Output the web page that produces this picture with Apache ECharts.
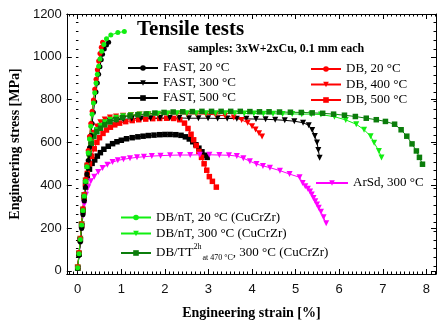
<!DOCTYPE html>
<html>
<head>
<meta charset="utf-8">
<script src="https://cdn.jsdelivr.net/npm/echarts@6.0.0/dist/echarts.min.js"></script>
<style>
  html, body { margin: 0; padding: 0; background: #fff; }
  #chart { width: 441px; height: 325px; }
</style>
</head>
<body>
<div id="chart"></div>
<script>
// strain [%], stress [MPa]
const fast20 = [[0,12],[0.03,72],[0.06,135],[0.09,198],[0.12,262],[0.15,326],[0.18,390],[0.21,452],[0.24,515],[0.27,575],[0.3,632],[0.33,688],[0.36,740],[0.39,790],[0.42,835],[0.45,878],[0.48,918],[0.51,954],[0.54,986],[0.57,1012],[0.61,1036],[0.66,1055],[0.71,1068]]
const fast300 = [[0,10],[0.03,74],[0.06,140],[0.09,206],[0.12,272],[0.15,340],[0.18,408],[0.22,476],[0.26,535],[0.31,585],[0.37,625],[0.44,655],[0.52,676],[0.62,690],[0.74,699],[0.88,705],[1.04,708],[1.24,710],[1.45,712],[1.67,713],[1.89,714],[2.11,714],[2.33,714],[2.55,713],[2.77,713],[2.99,713],[3.21,712],[3.43,712],[3.65,711],[3.87,710],[4.09,709],[4.31,708],[4.53,706],[4.75,703],[4.97,699],[5.17,692],[5.3,680],[5.38,658],[5.44,630],[5.49,600],[5.52,565],[5.55,528]]
const fast500 = [[0,12],[0.03,78],[0.06,144],[0.09,210],[0.12,276],[0.15,338],[0.18,392],[0.22,438],[0.27,475],[0.33,502],[0.39,518],[0.45,536],[0.52,552],[0.6,568],[0.7,582],[0.8,594],[0.9,603],[1.0,610],[1.12,617],[1.25,622],[1.38,626],[1.5,629],[1.62,632],[1.75,634],[1.88,636],[2.0,637],[2.12,637],[2.25,636],[2.37,633],[2.47,626],[2.56,616],[2.64,603],[2.71,589],[2.78,573],[2.85,556],[2.92,540],[2.97,530]]
const db20 = [[0,18],[0.03,85],[0.06,152],[0.09,220],[0.12,290],[0.15,358],[0.18,428],[0.21,496],[0.24,562],[0.27,628],[0.3,688],[0.33,745],[0.36,798],[0.39,848],[0.42,895],[0.45,940],[0.48,980],[0.51,1015],[0.54,1045],[0.57,1068]]
const db400 = [[0,16],[0.03,82],[0.06,150],[0.09,218],[0.12,286],[0.15,354],[0.18,422],[0.22,492],[0.26,552],[0.31,605],[0.37,645],[0.44,674],[0.52,694],[0.62,707],[0.74,716],[0.88,721],[1.04,725],[1.22,728],[1.42,730],[1.62,732],[1.84,733],[2.06,734],[2.28,734],[2.5,733],[2.72,733],[2.94,732],[3.16,729],[3.38,724],[3.58,716],[3.76,705],[3.9,692],[4.0,676],[4.08,660],[4.16,643],[4.23,628]]
const db500 = [[0,14],[0.03,80],[0.06,146],[0.09,212],[0.12,280],[0.15,345],[0.18,405],[0.22,455],[0.27,500],[0.32,535],[0.38,570],[0.44,600],[0.5,622],[0.58,642],[0.66,658],[0.75,671],[0.85,682],[0.96,690],[1.1,697],[1.25,702],[1.4,706],[1.56,709],[1.72,711],[1.88,712],[2.04,713],[2.2,712],[2.34,706],[2.45,690],[2.53,665],[2.6,638],[2.66,612],[2.72,585],[2.78,558],[2.84,530],[2.9,500],[2.96,470],[3.02,440],[3.09,418],[3.18,391]]
const arsd300 = [[0,10],[0.03,72],[0.06,136],[0.09,198],[0.12,258],[0.15,310],[0.19,355],[0.24,390],[0.3,418],[0.38,440],[0.47,462],[0.57,480],[0.68,496],[0.8,508],[0.92,516],[1.05,521],[1.2,526],[1.36,530],[1.52,533],[1.7,536],[1.9,538],[2.12,540],[2.35,541],[2.58,541],[2.8,542],[3.02,542],[3.25,541],[3.47,540],[3.65,536],[3.8,526],[3.95,512],[4.1,499],[4.25,490],[4.41,482],[4.64,468],[4.86,452],[5.09,437],[5.16,410],[5.22,395],[5.28,383],[5.33,370],[5.37,356],[5.41,340],[5.45,325],[5.49,310],[5.53,295],[5.58,276],[5.64,250],[5.7,222]]
const dbnt20 = [[0,14],[0.03,80],[0.06,146],[0.09,214],[0.12,282],[0.15,350],[0.18,418],[0.21,486],[0.24,552],[0.27,616],[0.3,676],[0.33,732],[0.36,784],[0.39,832],[0.42,877],[0.45,918],[0.48,956],[0.51,990],[0.55,1026],[0.6,1058],[0.66,1084],[0.76,1102],[0.92,1113],[1.07,1118]]
const dbnt300 = [[0,14],[0.03,80],[0.06,148],[0.09,216],[0.12,284],[0.15,352],[0.18,420],[0.22,490],[0.26,550],[0.31,598],[0.37,632],[0.44,658],[0.52,678],[0.62,694],[0.74,706],[0.88,715],[1.04,722],[1.22,727],[1.42,730],[1.62,732],[1.84,734],[2.06,735],[2.28,736],[2.5,736],[2.72,736],[2.94,736],[3.16,736],[3.38,736],[3.6,736],[3.82,735],[4.04,735],[4.26,734],[4.48,734],[4.7,733],[4.92,733],[5.14,732],[5.36,732],[5.58,730],[5.89,720],[6.15,705],[6.39,685],[6.57,659],[6.72,629],[6.8,598],[6.91,560],[6.97,529]]
const dbtt300 = [[0,12],[0.03,78],[0.06,146],[0.09,214],[0.12,282],[0.15,350],[0.18,418],[0.22,488],[0.26,548],[0.31,596],[0.37,628],[0.44,650],[0.52,666],[0.62,682],[0.74,696],[0.88,707],[1.03,716],[1.2,724],[1.38,729],[1.57,733],[1.77,737],[1.98,740],[2.19,742],[2.41,743],[2.63,744],[2.85,745],[3.07,745],[3.29,745],[3.51,745],[3.73,745],[3.95,744],[4.17,743],[4.39,743],[4.63,742],[4.88,741],[5.13,740],[5.38,738],[5.62,736],[5.87,732],[6.12,727],[6.37,721],[6.62,713],[6.85,706],[7.06,698],[7.27,685],[7.42,659],[7.55,629],[7.67,593],[7.77,560],[7.84,530],[7.91,498]]

// tick labels
const xTicks = [0, 1, 2, 3, 4, 5, 6, 7, 8]
const yTicks = [0, 200, 400, 600, 800, 1000, 1200]

const X_MIN = -0.25, X_MAX = 8.22, Y_MIN = -15, Y_MAX = 1200
// plot box in px
const G = { left: 65, right: 5, top: 14, bottom: 47 }
// pixel row of stress 0, so the 40 MPa minor-tick grid starts there
const zeroRow = 325 - G.bottom - (0 - Y_MIN) * (325 - G.top - G.bottom) / (Y_MAX - Y_MIN)

const SERIF = 'Liberation Serif'
const SANS = 'Liberation Sans'
const TRI_DOWN = 'path://M0,0L10,0L5,9Z'
const NAME_TT = 'DB/TT 2h at 470 °C, 300 °C (CuCrZr)'

const mkSeries = (name, data, color, symbol, size) => ({
  name,
  type: 'line',
  data,
  symbol,
  symbolSize: size,
  showAllSymbol: true,
  lineStyle: { color, width: 1 },
  itemStyle: { color },
  emphasis: { disabled: true }
})

const tickStyle = { color: '#000', width: 1 }

// x axes: major (nice step 1) and minor (nice step 0.1) on bottom and top
const mkX = (pos, split, len, line, extra = {}) => ({
  type: 'value',
  gridIndex: 0,
  position: pos,
  min: X_MIN,
  max: X_MAX,
  splitNumber: split,
  splitLine: { show: false },
  axisLine: { show: line, onZero: false, lineStyle: tickStyle },
  axisTick: { show: true, inside: true, length: len, lineStyle: tickStyle },
  axisLabel: { show: false },
  ...extra
})

const mkY = (pos, len, line, extra = {}) => ({
  type: 'value',
  gridIndex: 0,
  position: pos,
  min: Y_MIN,
  max: Y_MAX,
  splitNumber: 6,
  splitLine: { show: false },
  axisLine: { show: line, onZero: false, lineStyle: tickStyle },
  axisTick: { show: true, inside: true, length: len, lineStyle: tickStyle },
  axisLabel: { show: false },
  ...extra
})

// minor y ticks live in a second grid that starts at stress 0
const mkYMinor = (pos) => ({
  type: 'value',
  gridIndex: 1,
  position: pos,
  min: 0,
  max: Y_MAX,
  interval: 40,
  splitLine: { show: false },
  axisLine: { show: false },
  axisTick: { show: true, inside: true, length: 2.5, lineStyle: tickStyle },
  axisLabel: { show: false }
})

const nameStyle = { fontFamily: SERIF, fontWeight: 'bold', fontSize: 14, color: '#000' }
const labelStyle = { color: '#111', fontSize: 13, fontFamily: SANS }

const legendText = { fontFamily: SERIF, fontSize: 13, color: '#000' }
const mkLegend = (data, left, top, gap, extra = {}) => ({
  data,
  left,
  top,
  orient: 'vertical',
  padding: 0,
  itemGap: gap,
  itemWidth: 30,
  itemHeight: 7,
  selectedMode: false,
  textStyle: { ...legendText },
  ...extra
})

const chart = echarts.init(document.getElementById('chart'))
chart.setOption({
  animation: false,
  backgroundColor: '#fff',
  title: [
    {
      text: 'Tensile tests',
      left: 137,
      top: 19,
      padding: 0,
      textStyle: { fontFamily: SERIF, fontWeight: 'bold', fontSize: 21, color: '#000' }
    },
    {
      text: 'samples: 3xW+2xCu, 0.1 mm each',
      left: 188,
      top: 43,
      padding: 0,
      textStyle: { fontFamily: SERIF, fontWeight: 'bold', fontSize: 12, color: '#000' }
    }
  ],
  grid: [
    { ...G },
    { left: G.left, right: G.right, top: G.top, bottom: 325 - zeroRow }
  ],
  xAxis: [
    mkX('bottom', 8, 5, true, {
      axisLabel: { show: true, customValues: xTicks, margin: 9, ...labelStyle },
      name: 'Engineering strain [%]',
      nameLocation: 'middle',
      nameGap: 32,
      nameTextStyle: nameStyle
    }),
    mkX('bottom', 85, 2.5, false),
    mkX('top', 8, 5, true),
    mkX('top', 85, 2.5, false),
    { type: 'value', gridIndex: 1, show: false, min: X_MIN, max: X_MAX }
  ],
  yAxis: [
    mkY('left', 5, true, {
      axisLabel: { show: true, customValues: yTicks, margin: 5, formatter: (v) => String(v), ...labelStyle },
      name: 'Engineering stress [MPa]',
      nameLocation: 'middle',
      nameGap: 43,
      nameTextStyle: nameStyle
    }),
    mkY('right', 5, true),
    mkYMinor('left'),
    mkYMinor('right')
  ],
  legend: [
    mkLegend(['FAST, 20 °C', 'FAST, 300 °C', 'FAST, 500 °C'], 127, 61.5, 2),
    mkLegend(['DB, 20 °C', 'DB, 400 °C', 'DB, 500 °C'], 310, 62.5, 2.5),
    mkLegend(['DB/nT, 20 °C (CuCrZr)', 'DB/nT, 300 °C (CuCrZr)', NAME_TT], 120, 211, 3, {
      formatter: (name) => name === NAME_TT
        ? '{a|DB/TT}{sup|2h}{sub|at 470 °C}{a|, 300 °C (CuCrZr)}'
        : name,
      textStyle: {
        ...legendText,
        rich: {
          a: { fontFamily: SERIF, fontSize: 13, color: '#000', lineHeight: 20, verticalAlign: 'middle' },
          sup: { fontFamily: SERIF, fontSize: 8, color: '#000', verticalAlign: 'top' },
          sub: { fontFamily: SERIF, fontSize: 8, color: '#000', verticalAlign: 'bottom', padding: [0, 0, 1, 1] }
        }
      }
    }),
    mkLegend(['ArSd, 300 °C'], 315, 176.5, 2, { itemWidth: 32 })
  ],
  series: [
    mkSeries('FAST, 500 °C', fast500, '#000000', 'rect', 5.5),
    mkSeries('DB, 500 °C', db500, '#ff0000', 'rect', 5.5),
    mkSeries('ArSd, 300 °C', arsd300, '#ff00ff', TRI_DOWN, 6),
    mkSeries('FAST, 300 °C', fast300, '#000000', TRI_DOWN, 6),
    mkSeries('DB, 400 °C', db400, '#ff0000', TRI_DOWN, 6),
    mkSeries('DB/nT, 300 °C (CuCrZr)', dbnt300, '#11ee11', TRI_DOWN, 6),
    mkSeries(NAME_TT, dbtt300, '#0b7d0b', 'rect', 5.5),
    mkSeries('FAST, 20 °C', fast20, '#000000', 'circle', 5),
    mkSeries('DB, 20 °C', db20, '#ff0000', 'circle', 5),
    mkSeries('DB/nT, 20 °C (CuCrZr)', dbnt20, '#11ee11', 'circle', 5)
  ]
})
</script>
</body>
</html>
